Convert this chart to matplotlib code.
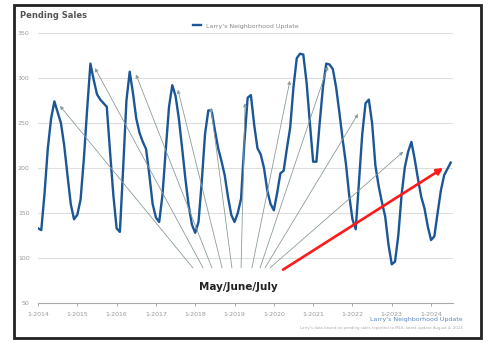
import matplotlib.pyplot as plt
from matplotlib.patches import Rectangle

# monthly pending sales, Jan 2014 .. Jul 2024
y2014 = [133, 131, 172, 222, 255, 274, 262, 250, 225, 192, 160, 143]
y2015 = [148, 165, 210, 265, 316, 298, 282, 276, 272, 268, 218, 170]
y2016 = [133, 129, 200, 275, 307, 283, 255, 239, 229, 221, 192, 160]
y2017 = [145, 140, 170, 220, 268, 292, 280, 255, 222, 188, 158, 137]
y2018 = [128, 140, 185, 238, 264, 264, 242, 222, 208, 192, 168, 148]
y2019 = [140, 150, 166, 228, 278, 281, 248, 222, 215, 200, 175, 160]
y2020 = [153, 172, 194, 197, 222, 245, 290, 322, 327, 326, 295, 250]
y2021 = [207, 207, 250, 290, 316, 315, 310, 290, 262, 232, 205, 170]
y2022 = [143, 132, 185, 238, 272, 276, 250, 203, 180, 162, 146, 115]
y2023 = [93, 96, 125, 170, 201, 218, 229, 210, 188, 168, 155, 135]
y2024 = [120, 124, 150, 175, 192, 199, 206]

sales = y2014 + y2015 + y2016 + y2017 + y2018 + y2019 + y2020 + y2021 + y2022 + y2023 + y2024
months = list(range(len(sales)))

tick_pos = list(range(0, 121, 12))
tick_labels = ['1-%d' % yr for yr in range(2014, 2025)]
y_ticks = [50, 100, 150, 200, 250, 300, 350]

# arrow targets (month, value) near each summer peak, and where the arrows start
peak_x = [6.7, 17.4, 29.9, 42.7, 52.8, 63.2, 76.9, 88.5, 97.7, 111.5]
peak_y = [269, 311, 304, 287, 267, 272, 297, 313, 260, 218]
base_x = [47.3, 50.4, 53.1, 56.2, 59.2, 62.0, 65.3, 67.8, 69.3, 70.8]
base_y = 89

fig = plt.figure(figsize=(4.92, 3.42), dpi=100)
ax = fig.add_axes([38 / 492, 39 / 342, 415 / 492, 270 / 342])

ax.plot(months, sales, color='#1b5696', lw=1.7, label="Larry's Neighborhood Update",
        solid_joinstyle='round', zorder=3)

ax.set_xlim(0, 126.7)
ax.set_ylim(50, 350)
ax.set_yticks(y_ticks)
ax.set_xticks(tick_pos)
ax.set_xticklabels(tick_labels)
ax.tick_params(axis='y', length=0, labelsize=4.5, labelcolor='#999999', pad=6)
ax.tick_params(axis='x', length=2.5, width=0.6, color='#999999', labelsize=4.5,
               labelcolor='#999999', pad=4)
ax.grid(axis='y', color='#dedede', lw=0.8)
ax.set_axisbelow(True)
for s in ['top', 'right', 'left']:
    ax.spines[s].set_visible(False)
ax.spines['bottom'].set_color('#aaaaaa')
ax.spines['bottom'].set_linewidth(0.8)

ax.legend(loc='center', bbox_to_anchor=(0.5, 1.026), frameon=False, fontsize=4.5,
          handlelength=1.3, labelcolor='#888888')

# grey arrows to the May/June/July peaks
for px, py, bx in zip(peak_x, peak_y, base_x):
    ax.annotate('', xy=(px, py), xytext=(bx, base_y),
                arrowprops=dict(arrowstyle='-|>', color='#8c9c9c', lw=0.6,
                                mutation_scale=5, shrinkA=0, shrinkB=0))

ax.text(61.1, 68, 'May/June/July', ha='center', va='center', fontsize=7.5,
        fontweight='bold', color='#222222')

# red trend arrow
ax.annotate('', xy=(123.7, 200), xytext=(74.8, 87),
            arrowprops=dict(arrowstyle='-|>', color='#ff1a1a', lw=1.9,
                            mutation_scale=9, shrinkA=0, shrinkB=0),
            annotation_clip=False)

fig.text(20 / 492, 1 - 16 / 342, 'Pending Sales', ha='left', va='center',
         fontsize=6, fontweight='bold', color='#555555')
fig.text(463 / 492, 1 - 319 / 342, "Larry's Neighborhood Update", ha='right',
         va='center', fontsize=4.5, color='#5a86c5')
fig.text(463 / 492, 1 - 328 / 342,
         "Larry's data based on pending sales reported to MLS, latest update August 4, 2024",
         ha='right', va='center', fontsize=2.8, color='#aaaaaa')

fig.patches.append(Rectangle((14 / 492, 4 / 342), 467 / 492, 333 / 342, fill=False,
                             edgecolor='#222222', lw=2.0, transform=fig.transFigure,
                             figure=fig))

plt.savefig('out.png', dpi=100)
